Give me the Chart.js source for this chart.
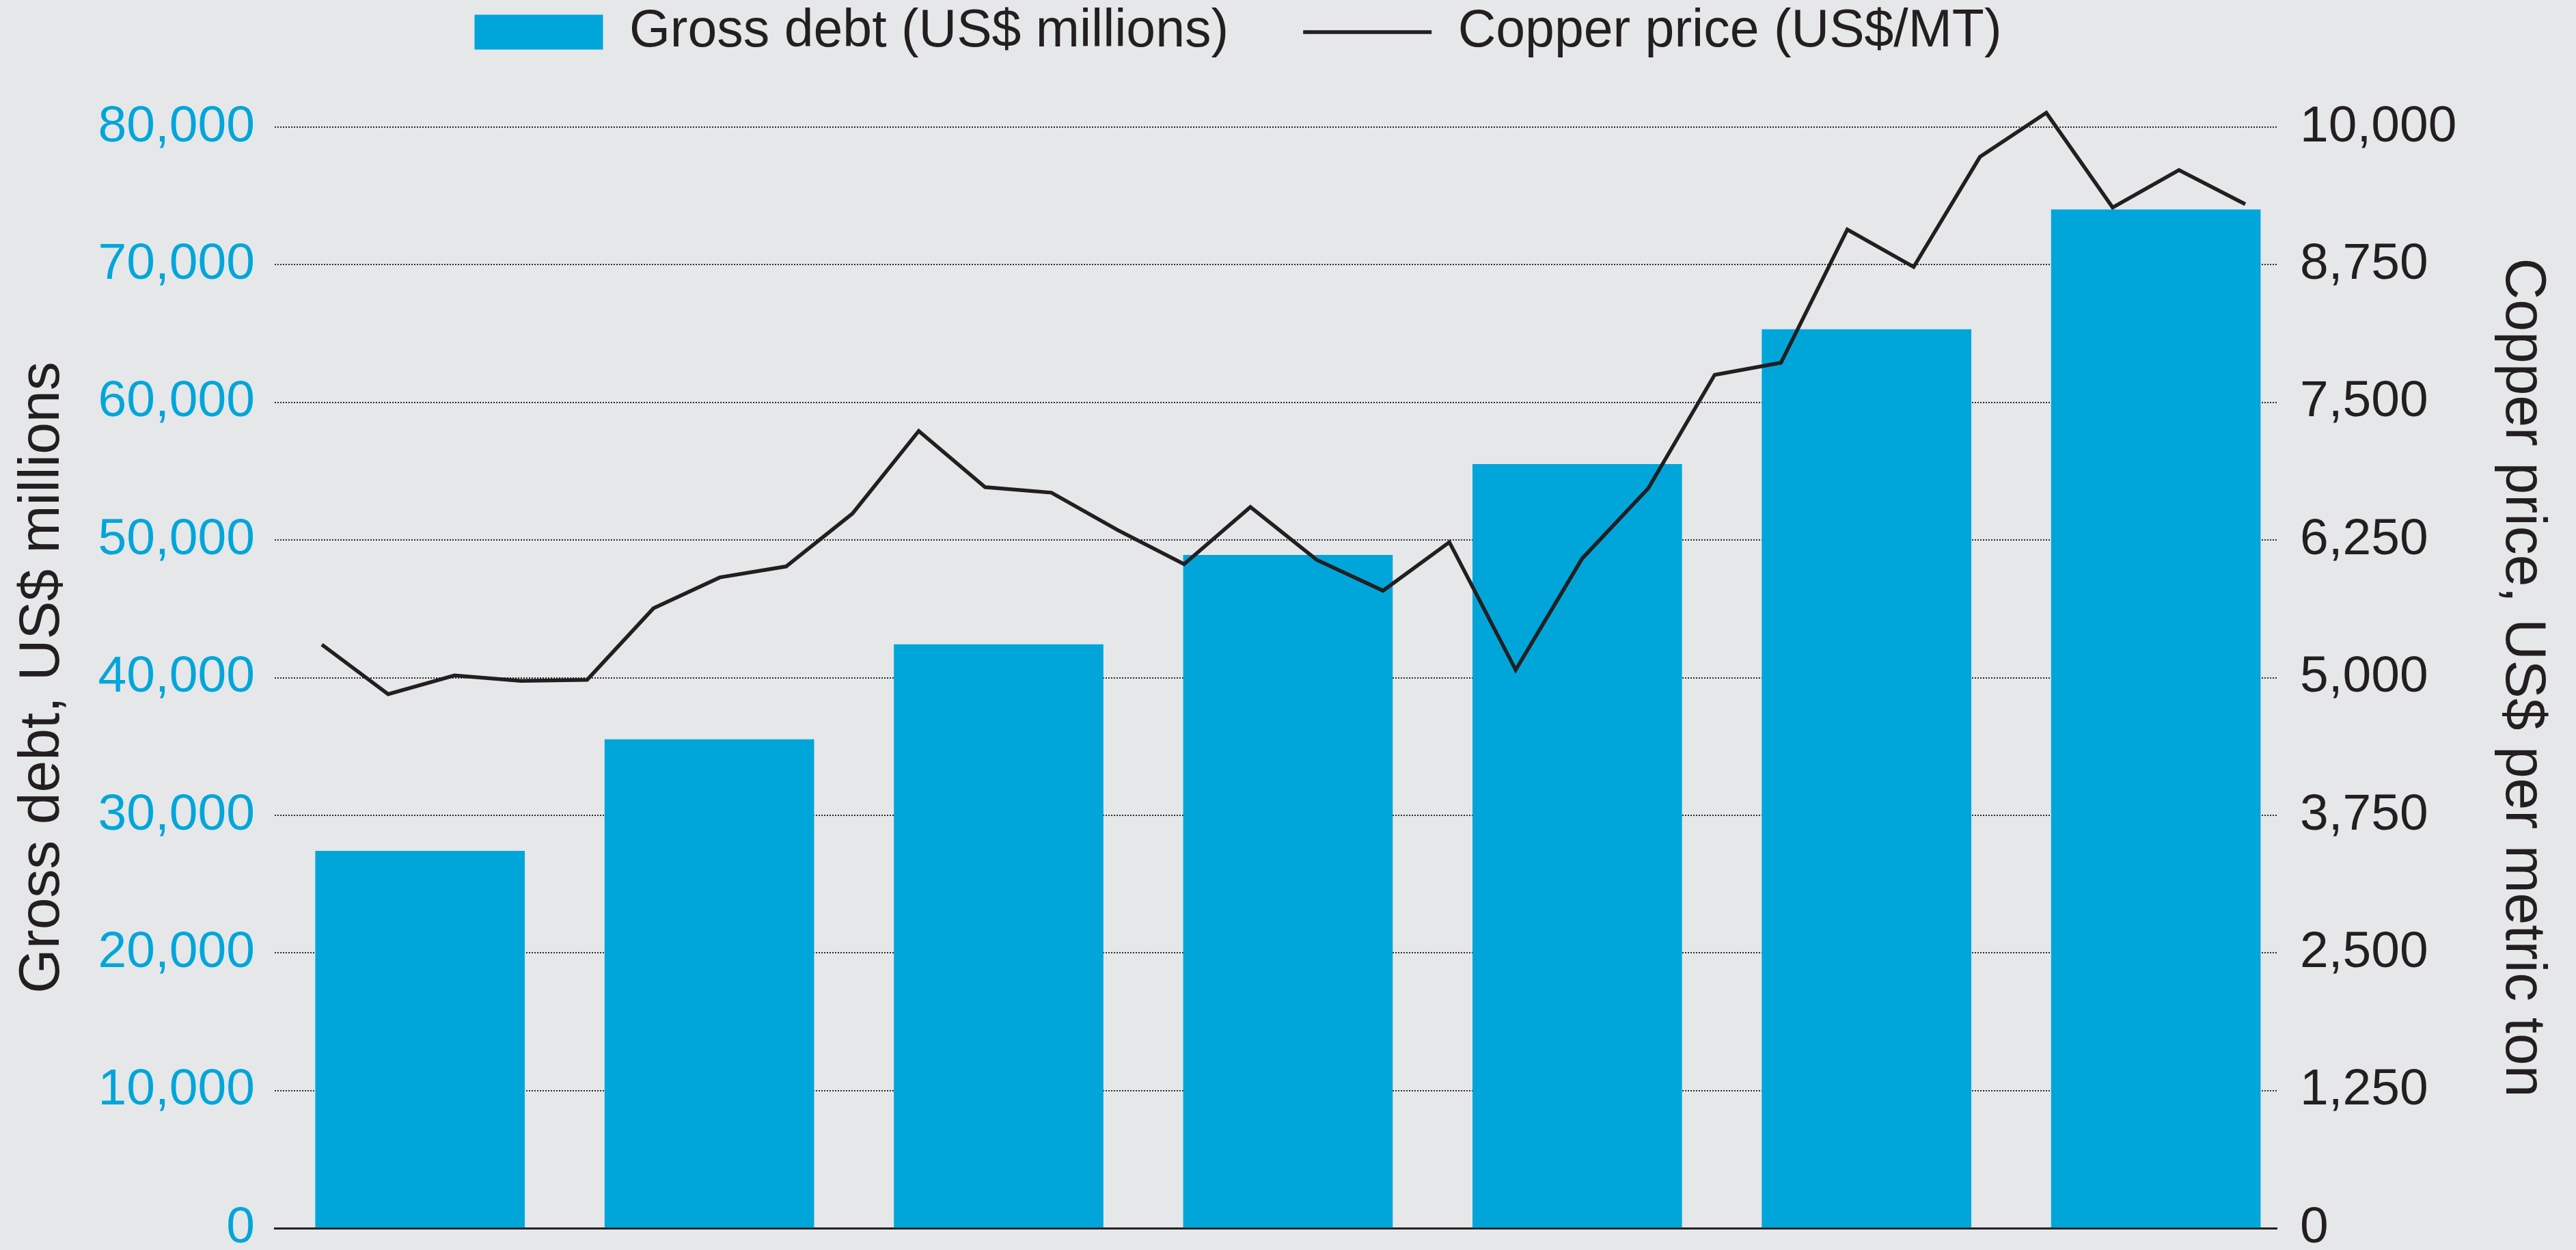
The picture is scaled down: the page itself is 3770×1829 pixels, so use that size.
<!DOCTYPE html>
<html>
<head>
<meta charset="utf-8">
<style>
    html, body { margin: 0; padding: 0; background: #e6e7e8; overflow: hidden; }
    canvas { display: block; }
</style>
</head>
<body>
<canvas id="myChart" width="3770" height="1829"></canvas>

<script src="https://cdn.jsdelivr.net/npm/chart.js"></script>

<script>
    // one bar per period, gross debt in US$ millions
    const barSlots = [1, 2, 3, 4, 5, 6, 7];
    const grossDebt = [27400, 35500, 42400, 48900, 55500, 65300, 74000];

    // copper price readings (US$/MT), evenly spaced along the period
    const priceSteps = [0, 1, 2, 3, 4, 5, 6, 7, 8, 9, 10, 11, 12, 13, 14,
                        15, 16, 17, 18, 19, 20, 21, 22, 23, 24, 25, 26, 27, 28, 29];
    const copperPrice = [5300, 4850, 5020, 4970, 4980, 5630, 5910, 6010, 6490, 7240,
                         6730, 6680, 6340, 6030, 6550, 6070, 5790, 6230, 5070, 6080,
                         6720, 7750, 7860, 9070, 8730, 9730, 10130, 9270, 9610, 9300];

    const debtTicks = [0, 10000, 20000, 30000, 40000, 50000, 60000, 70000, 80000];
    const priceTicks = [0, 1250, 2500, 3750, 5000, 6250, 7500, 8750, 10000];

    const blue = '#00a6da';
    const ink = '#231f20';
    const fam = "'Liberation Sans', Arial, sans-serif";

    // nudge the legend left so it sits where the original one does
    const legendShift = {
        id: 'legendShift',
        afterLayout(chart) {
            chart.legend.left -= 73;
            chart.legend.right -= 73;
        }
    };

    const ctx = document.getElementById('myChart');

    new Chart(ctx, {
        type: 'bar',
        data: {
            datasets: [{
                label: 'Gross debt (US$ millions)',
                data: barSlots.map((s, i) => ({ x: s, y: grossDebt[i] })),
                backgroundColor: blue,
                borderWidth: 0,
                barThickness: 306,
                grouped: false,
                pointStyle: 'rect',
                xAxisID: 'x',
                yAxisID: 'y',
                order: 1
            }, {
                type: 'line',
                label: 'Copper price (US$/MT)',
                data: priceSteps.map((s, i) => ({ x: s, y: copperPrice[i] })),
                borderColor: ink,
                backgroundColor: ink,
                borderWidth: 5.5,
                pointRadius: 0,
                pointStyle: 'line',
                tension: 0,
                fill: false,
                clip: false,
                xAxisID: 'x2',
                yAxisID: 'y2',
                order: 0
            }]
        },
        options: {
            responsive: false,
            animation: false,
            devicePixelRatio: 1,
            layout: { padding: { top: -100.5, bottom: 32, left: 0, right: 0 } },
            plugins: {
                tooltip: { enabled: false },
                legend: {
                    position: 'top',
                    labels: {
                        font: { family: fam, size: 77 },
                        color: ink,
                        usePointStyle: true,
                        pointStyleWidth: 188,
                        boxHeight: 51,
                        padding: 109,
                        sort: (a, b) => a.datasetIndex - b.datasetIndex
                    }
                }
            },
            scales: {
                x: {
                    type: 'linear',
                    position: 'bottom',
                    offset: false,
                    min: 0.4976,
                    max: 7.4178,
                    ticks: { display: false },
                    grid: { display: false, drawTicks: false, offset: false },
                    border: { display: true, color: ink, width: 3 },
                    afterFit: s => { s.height = 0; }
                },
                x2: {
                    type: 'linear',
                    position: 'top',
                    offset: false,
                    min: -0.7108,
                    max: 29.474,
                    ticks: { display: false },
                    grid: { display: false, drawTicks: false, offset: false },
                    border: { display: false },
                    afterFit: s => { s.height = 90.5; }
                },
                y: {
                    type: 'linear',
                    position: 'left',
                    min: 0,
                    max: 80000,
                    afterBuildTicks: s => { s.ticks = debtTicks.map(v => ({ value: v })); },
                    ticks: {
                        color: blue,
                        padding: 29,
                        font: { family: fam, size: 75, lineHeight: 1 }
                    },
                    grid: { color: '#2c2c2c', lineWidth: 2, drawTicks: false },
                    border: { display: false, dash: [2, 2] },
                    title: {
                        display: true,
                        text: 'Gross debt, US$ millions',
                        color: ink,
                        font: { family: fam, size: 84, lineHeight: 1.2 },
                        padding: { top: 12, bottom: 0 }
                    },
                    afterFit: s => { s.width = 402; s.paddingTop = 0; s.paddingBottom = 0; }
                },
                y2: {
                    type: 'linear',
                    position: 'right',
                    min: 0,
                    max: 10000,
                    afterBuildTicks: s => { s.ticks = priceTicks.map(v => ({ value: v })); },
                    ticks: {
                        color: ink,
                        padding: 34,
                        font: { family: fam, size: 75, lineHeight: 1 }
                    },
                    grid: { display: false, drawTicks: false },
                    border: { display: false },
                    title: {
                        display: true,
                        text: 'Copper price, US$ per metric ton',
                        color: ink,
                        font: { family: fam, size: 84, lineHeight: 1.2 },
                        padding: { top: 28.6, bottom: 0 }
                    },
                    afterFit: s => { s.width = 438; s.paddingTop = 0; s.paddingBottom = 0; }
                }
            }
        },
        plugins: [legendShift]
    });
</script>
</body>
</html>
